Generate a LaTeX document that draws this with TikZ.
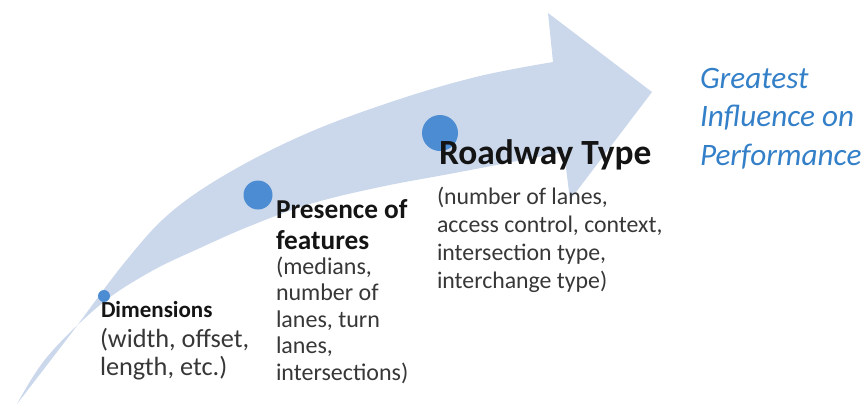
\documentclass[tikz,border=0pt]{standalone}
\usepackage{fontspec}
\setmainfont{Carlito}
\definecolor{arrowfill}{RGB}{203,216,235}
\definecolor{dotblue}{RGB}{76,140,210}
\definecolor{infblue}{RGB}{52,128,200}
\definecolor{titlecol}{RGB}{20,20,20}
\definecolor{bodycol}{RGB}{55,55,55}
\tikzset{
  dotc/.style={circle, fill=dotblue, inner sep=0pt},
  txt/.style={anchor=base west, inner sep=0pt, outer sep=0pt, align=left},
}
\begin{document}
\begin{tikzpicture}[x=1pt,y=-1pt]
\useasboundingbox (0,0) rectangle (868,405);
% curved arrow
\fill[arrowfill] plot[smooth, tension=0.6] coordinates {(17,404) (70,335) (125,262) (170,213) (230,172) (310,132) (400,99) (480,76) (553,62)}
  -- (548,13) -- (652,92) -- (570,200) -- (564,152)
  -- plot[smooth, tension=0.6] coordinates {(564,152) (460,172) (380,187) (310,204) (250,226) (200,248) (150,272) (100,305) (47,357) (17,404)} -- cycle;
% dots
\node[dotc, minimum size=12pt] (d1) at (104,296) {};
\node[dotc, minimum size=29pt] (d2) at (258,195) {};
\node[dotc, minimum size=36pt] (d3) at (440,133) {};
% texts (base anchor = baseline of last line)
\node[txt, text=titlecol, font=\fontsize{23}{30}\selectfont\bfseries] (t1) at (101,317) {Dimensions};
\node[txt, text=bodycol, font=\fontsize{26.3}{28}\selectfont] (b1) at (100,375) {(width, offset,\\length, etc.)};
\node[txt, text=titlecol, font=\fontsize{27.3}{31}\selectfont\bfseries] (t2) at (276,249) {Presence of\\features};
\node[txt, text=bodycol, font=\fontsize{24}{26.5}\selectfont] (b2) at (276,380) {(medians,\\number of\\lanes, turn\\lanes,\\intersections)};
\node[txt, text=titlecol, font=\fontsize{35.4}{40}\selectfont\bfseries] (t3) at (439,164) {Roadway Type};
\node[txt, text=bodycol, font=\fontsize{23.8}{27.7}\selectfont] (b3) at (437,288) {(number of lanes,\\access control, context,\\intersection type,\\interchange type)};
\node[txt, text=infblue, font=\fontsize{31.2}{38.5}\selectfont\itshape] (g) at (700,165) {Greatest\\Influence on\\Performance};
\end{tikzpicture}
\end{document}
